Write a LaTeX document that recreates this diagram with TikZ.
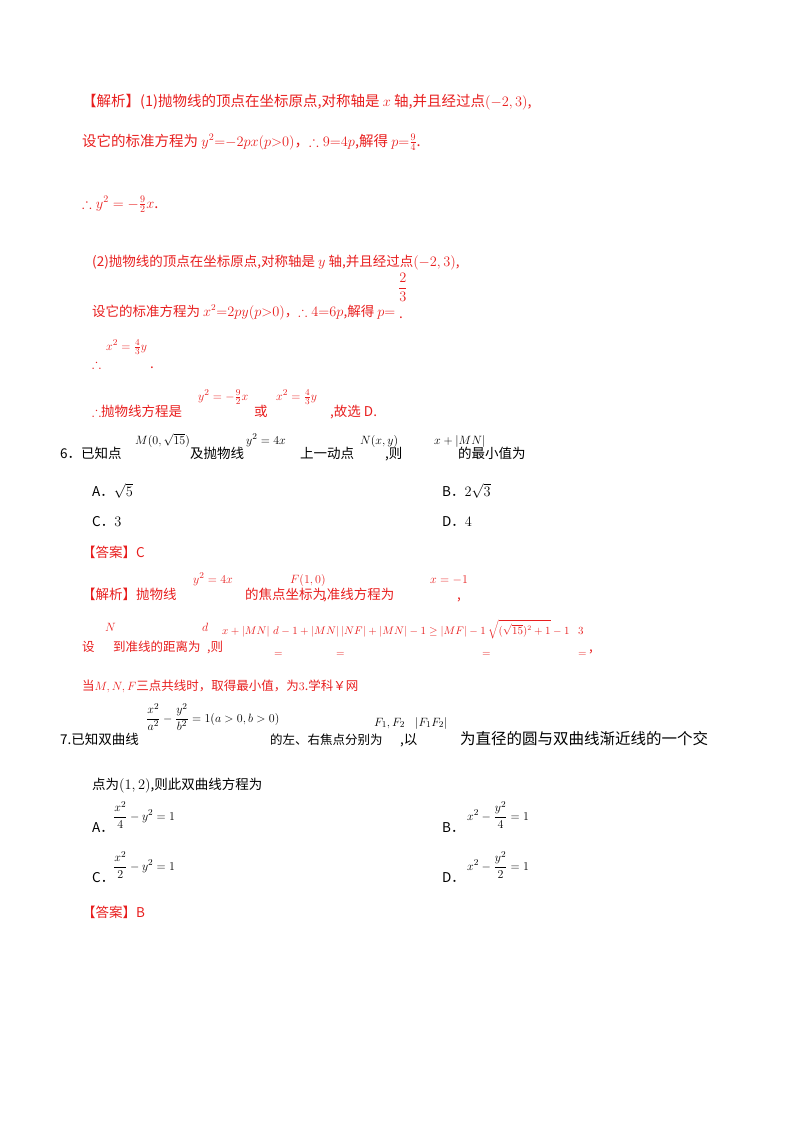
\documentclass[tikz,border=0pt]{standalone}
\usepackage{amsmath,amssymb}
\usepackage{fontspec}
\setmainfont{Noto Sans CJK SC}
\usepackage{xcolor}
\definecolor{ans}{RGB}{232,30,30}
\begin{document}
\begin{tikzpicture}[x=1pt,y=-1pt,
  t/.style={anchor=base west,inner sep=0pt,font=\fontsize{13.5}{15}\selectfont},
  r/.style={t,text=ans},
  m/.style={anchor=base west,inner sep=0pt,font=\fontsize{12.5}{14}\selectfont},
  rm/.style={m,text=ans},
  sm/.style={rm,font=\fontsize{10.5}{12}\selectfont}]
\useasboundingbox (0,0) rectangle (800,1132);
% part 1 (red)
\node[r,font=\fontsize{14.5}{16}\selectfont] (l1) at (82,106) {【解析】(1)抛物线的顶点在坐标原点,对称轴是 $x$ 轴,并且经过点$(-2,3)$,};
\node[r,font=\fontsize{14.5}{16}\selectfont] (l2) at (82,146) {设它的标准方程为 $y^2{=}{-}2px(p{>}0)$，$\therefore 9{=}4p$,解得 $p{=}\frac{9}{4}$.};
\node[r,font=\fontsize{14.5}{16}\selectfont] (l3) at (82,208) {$\therefore y^2=-\tfrac{9}{2}x$.};
\node[r] (l4) at (92,266) {(2)抛物线的顶点在坐标原点,对称轴是 $y$ 轴,并且经过点$(-2,3)$,};
\node[r] (l5) at (92,316) {设它的标准方程为 $x^2{=}2py(p{>}0)$，$\therefore 4{=}6p$,解得 $p{=}$};
\node[r] (l5b) at (398,292) {$\dfrac{2}{3}$};
\node[r] (l5c) at (399,318) {.};
\node[rm] (l6a) at (106,350) {$x^2=\frac{4}{3}y$};
\node[r] (l6b) at (92,368) {$\therefore$};
\node[r] (l6c) at (150,368) {.};
\node[r] (l7a) at (92,416) {$\therefore$抛物线方程是};
\node[rm] (l7b) at (198,400) {$y^2=-\frac{9}{2}x$};
\node[r] (l7c) at (254,416) {或};
\node[rm] (l7d) at (276,400) {$x^2=\frac{4}{3}y$};
\node[r] (l7e) at (330,416) {,故选 D.};
% question 6
\node[t] (q6a) at (60,458) {6．已知点};
\node[m] (q6b) at (135,444) {$M(0,\sqrt{15})$};
\node[t] (q6c) at (190,458) {及抛物线};
\node[m] (q6d) at (246,444) {$y^2=4x$};
\node[t] (q6e) at (300,458) {上一动点};
\node[m] (q6f) at (360,444) {$N(x,y)$};
\node[t] (q6g) at (385,458) {,则};
\node[m] (q6h) at (434,444) {$x+|MN|$};
\node[t] (q6i) at (458,458) {的最小值为};
\node[t] (oA) at (92,496) {A．$\sqrt{5}$};
\node[t] (oB) at (442,496) {B．$2\sqrt{3}$};
\node[t] (oC) at (92,526) {C．$3$};
\node[t] (oD) at (442,526) {D．$4$};
\node[r] (a6) at (82,557) {【答案】C};
\node[r] (s1a) at (82,599) {【解析】抛物线};
\node[rm] (s1b) at (193,583) {$y^2=4x$};
\node[r] (s1c) at (245,599) {的焦点坐标为};
\node[rm] (s1d) at (290,583) {$F(1,0)$};
\node[r] (s1e) at (323,599) {,准线方程为};
\node[rm] (s1f) at (430,583) {$x=-1$};
\node[r] (s1g) at (457,599) {,};
\node[r,font=\fontsize{12.5}{14}\selectfont] (s2a) at (82,651) {设};
\node[rm] (s2b) at (105,631) {$N$};
\node[r,font=\fontsize{12.5}{14}\selectfont] (s2c) at (113,651) {到准线的距离为};
\node[rm] (s2d) at (202,631) {$d$};
\node[r,font=\fontsize{12.5}{14}\selectfont] (s2e) at (207,651) {,则};
\node[sm] (s2f) at (222,634) {$x+|MN|$};
\node[sm] (s2g) at (274,656) {$=$};
\node[sm] (s2i) at (273,634) {$d-1+|MN|$};
\node[sm] (s2k) at (336,656) {$=$};
\node[sm] (s2m) at (341,634) {$|NF|+|MN|-1\geq|MF|-1$};
\node[sm] (s2n) at (482,656) {$=$};
\node[sm] (s2o) at (488,634) {$\sqrt{(\sqrt{15})^2+1}-1$};
\node[sm] (s2p) at (578,656) {$=$};
\node[sm] (s2q) at (578,634) {$3$};
\node[r] (s2r) at (589,651) {,};
\node[r,font=\fontsize{12.5}{14}\selectfont] (s3) at (82,690) {当$M,N,F$三点共线时，取得最小值，为$3$.学科￥网};
% question 7
\node[t] (q7a) at (60,744) {7.已知双曲线};
\node[m] (q7b) at (146,722) {$\dfrac{x^2}{a^2}-\dfrac{y^2}{b^2}=1(a>0,b>0)$};
\node[t,font=\fontsize{12.5}{14}\selectfont] (q7c) at (270,744) {的左、右焦点分别为};
\node[m] (q7d) at (374,726) {$F_1,F_2$};
\node[t] (q7e) at (400,744) {,以};
\node[m] (q7f) at (415,726) {$|F_1F_2|$};
\node[t,font=\fontsize{15.5}{18}\selectfont] (q7g) at (460,744) {为直径的圆与双曲线渐近线的一个交};
\node[t] (q7h) at (92,789) {点为$(1,2)$,则此双曲线方程为};
\node[t] (pA) at (92,832) {A．};
\node[m] (pAe) at (113,820) {$\dfrac{x^2}{4}-y^2=1$};
\node[t] (pB) at (442,832) {B．};
\node[m] (pBe) at (467,820) {$x^2-\dfrac{y^2}{4}=1$};
\node[t] (pC) at (92,882) {C．};
\node[m] (pCe) at (113,870) {$\dfrac{x^2}{2}-y^2=1$};
\node[t] (pD) at (442,882) {D．};
\node[m] (pDe) at (467,870) {$x^2-\dfrac{y^2}{2}=1$};
\node[r] (a7) at (82,917) {【答案】B};
\end{tikzpicture}
\end{document}
